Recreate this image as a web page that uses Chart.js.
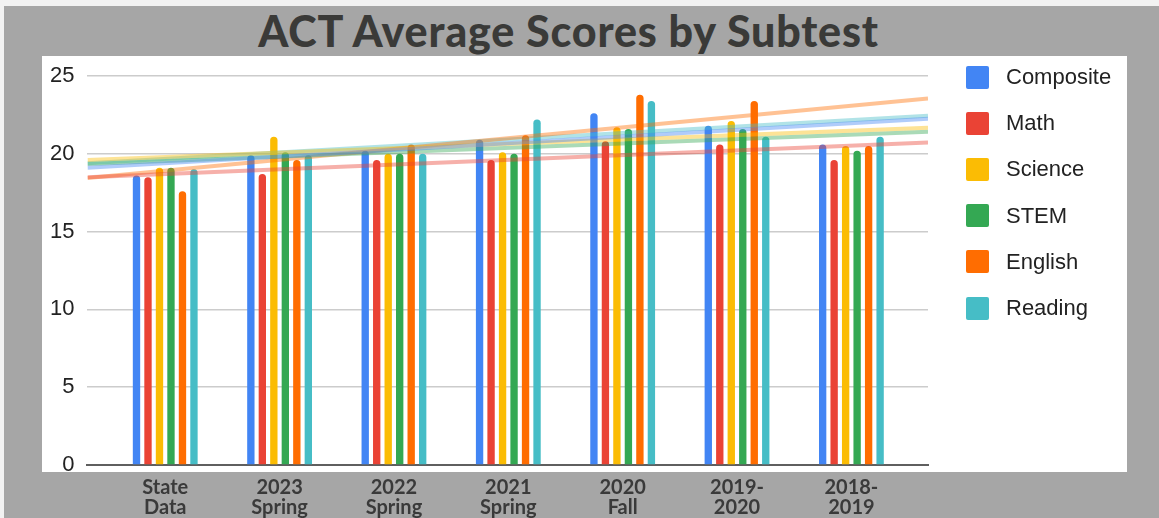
<!DOCTYPE html>
<html>
<head>
<meta charset="utf-8">
<script src="https://cdn.jsdelivr.net/npm/chart.js@4.4.0/dist/chart.umd.min.js"></script>
<style>
  html, body { margin: 0; padding: 0; }
  body { width: 1159px; height: 518px; background: #f2f2f2; position: relative; overflow: hidden; font-family: "Liberation Sans", Arial, sans-serif; }
  #frame { position: absolute; left: 4px; top: 6px; right: 0; bottom: 0; background: #a6a6a6; }
  #panel { position: absolute; left: 42px; top: 56px; width: 1085px; height: 416px; background: #fff; }
  #title { position: absolute; left: 0; top: 9px; width: 1137px; text-align: center; font: 900 43px Lato, sans-serif; letter-spacing: 0.8px; line-height: 43px; color: #3a3a38; }
  #wrap { position: absolute; left: 0; top: 0; width: 1159px; height: 518px; }
  #legend { position: absolute; left: 966px; top: 54px; }
  .item { height: 46.2px; display: flex; align-items: center; font-size: 22px; color: #222; }
  .box { width: 23px; height: 23px; border-radius: 2px; margin-right: 17px; }
</style>
</head>
<body>
<div id="frame"></div>
<div id="panel"></div>
<div id="title">ACT Average Scores by Subtest</div>
<div id="wrap"><canvas id="chart"></canvas></div>
<div id="legend"></div>
<script>
const categories = [['State', 'Data'], ['2023', 'Spring'], ['2022', 'Spring'], ['2021', 'Spring'], ['2020', 'Fall'], ['2019-', '2020'], ['2018-', '2019']];

const seriesNames = ['Composite', 'Math', 'Science', 'STEM', 'English', 'Reading'];
const seriesColors = ['#4285f4', '#ea4335', '#fbbc04', '#34a853', '#ff6d01', '#46bdc6'];

const composite = [18.6, 19.9, 20.2, 20.9, 22.6, 21.8, 20.6];
const math      = [18.5, 18.7, 19.6, 19.6, 20.8, 20.6, 19.6];
const science   = [19.1, 21.1, 20.0, 20.1, 21.7, 22.1, 20.5];
const stem      = [19.1, 20.1, 20.0, 20.0, 21.6, 21.6, 20.2];
const english   = [17.6, 19.6, 20.6, 21.2, 23.8, 23.4, 20.5];
const reading   = [19.0, 19.9, 20.0, 22.2, 23.4, 21.1, 21.1];

// trendline ends, read at the left and right edge of the plot
const trendStart = [19.1, 18.5, 19.6, 19.35, 18.45, 19.4];
const trendEnd   = [22.25, 20.73, 21.68, 21.42, 23.55, 22.45];

const yTicks = [0, 5, 10, 15, 20, 25];

const X_MIN = -0.68, X_MAX = 6.67;

const series = [composite, math, science, stem, english, reading];

const hexA = (hex, a) => {
  const n = parseInt(hex.slice(1), 16);
  return `rgba(${n >> 16}, ${(n >> 8) & 255}, ${n & 255}, ${a})`;
};

const barSets = series.map((vals, s) => ({
  type: 'bar',
  label: seriesNames[s],
  data: vals.map((v, i) => ({ x: i, y: v })),
  backgroundColor: seriesColors[s],
  borderRadius: 4,
  categoryPercentage: 0.603,
  barPercentage: 0.64,
  order: 1
}));

const trendSets = series.map((vals, s) => ({
  type: 'line',
  label: seriesNames[s] + ' trend',
  data: [{ x: X_MIN, y: trendStart[s] }, { x: X_MAX, y: trendEnd[s] }],
  borderColor: hexA(seriesColors[s], 0.42),
  borderWidth: 4,
  pointRadius: 0,
  fill: false,
  order: 0
}));

new Chart(document.getElementById('chart'), {
  type: 'bar',
  data: { datasets: [...barSets, ...trendSets] },
  options: {
    responsive: true,
    maintainAspectRatio: false,
    animation: false,
    layout: { padding: { left: 37, right: 231, top: 76, bottom: 0 } },
    plugins: { legend: { display: false }, tooltip: { enabled: false } },
    scales: {
      x: {
        type: 'linear',
        min: X_MIN,
        max: X_MAX,
        offset: false,
        grid: { display: false, drawTicks: true, tickLength: 13 },
        border: { display: true, color: '#5f5f5f', width: 2 },
        afterBuildTicks: scale => { scale.ticks = categories.map((_, i) => ({ value: i })); },
        ticks: {
          autoSkip: false,
          maxRotation: 0,
          padding: 0,
          color: '#3a3a3a',
          font: { family: 'Lato', weight: 'bold', size: 20, lineHeight: 1.0 },
          callback: v => categories[v]
        }
      },
      y: {
        min: 0,
        max: 25,
        afterBuildTicks: scale => { scale.ticks = yTicks.map(v => ({ value: v })); },
        grid: { color: '#cccccc', lineWidth: 1.5, drawTicks: false },
        border: { display: false },
        ticks: {
          padding: 13,
          color: '#222',
          font: { family: 'Liberation Sans', size: 22 }
        }
      }
    }
  }
});

const legend = document.getElementById('legend');
seriesNames.forEach((name, s) => {
  const row = document.createElement('div');
  row.className = 'item';
  row.innerHTML = `<span class="box" style="background:${seriesColors[s]}"></span>${name}`;
  legend.appendChild(row);
});
</script>
</body>
</html>
